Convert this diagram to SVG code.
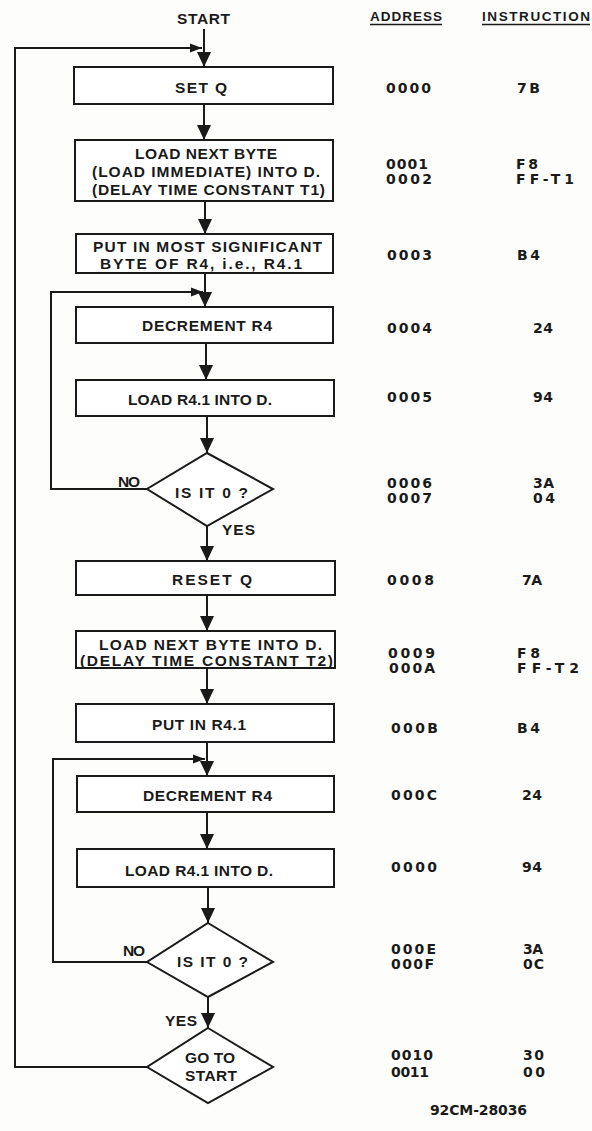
<svg xmlns="http://www.w3.org/2000/svg" width="592" height="1131" viewBox="0 0 592 1131">
<style>
.bg{fill:#fdfdfb}
.box{fill:#fff;stroke:#1a1a1a;stroke-width:2}
.ln{fill:none;stroke:#1a1a1a;stroke-width:2}
.t{font-family:"Liberation Sans",Arial,sans-serif;font-weight:bold;font-size:15.5px;fill:#1a1a1a}
.c{text-anchor:middle}
.n{font-family:"DejaVu Sans","Liberation Sans",sans-serif;font-weight:bold;font-size:14px;fill:#1a1a1a}
.h{font-family:"Liberation Sans",Arial,sans-serif;font-weight:bold;font-size:13.5px;fill:#1a1a1a}
.ul{stroke:#1a1a1a;stroke-width:1.5}
</style>
<defs>
<marker id="ad" markerUnits="userSpaceOnUse" markerWidth="15" markerHeight="14" refX="15" refY="7" orient="auto"><path d="M0,0 L15,7 L0,14 Z" fill="#1a1a1a"/></marker>
<marker id="ah" markerUnits="userSpaceOnUse" markerWidth="12" markerHeight="10" refX="12" refY="5" orient="auto"><path d="M0,0.5 L12,5 L0,9.5 Z" fill="#1a1a1a"/></marker>
</defs>
<rect class="bg" x="0" y="0" width="592" height="1131"/>

<g id="connectors">
<line class="ln" x1="204" y1="29" x2="204" y2="67" marker-end="url(#ad)"/>
<polyline class="ln" points="147,1067 15,1067 15,48 202,48" marker-end="url(#ah)"/>
<line class="ln" x1="204" y1="104" x2="204" y2="140" marker-end="url(#ad)"/>
<line class="ln" x1="205" y1="201" x2="205" y2="234" marker-end="url(#ad)"/>
<line class="ln" x1="205" y1="273" x2="205" y2="307" marker-end="url(#ad)"/>
<polyline class="ln" points="147,489 51,489 51,292 203,292" marker-end="url(#ah)"/>
<line class="ln" x1="206" y1="343" x2="206" y2="380" marker-end="url(#ad)"/>
<line class="ln" x1="207" y1="416" x2="207" y2="453" marker-end="url(#ad)"/>
<line class="ln" x1="207" y1="526" x2="207" y2="561" marker-end="url(#ad)"/>
<line class="ln" x1="207" y1="595" x2="207" y2="631" marker-end="url(#ad)"/>
<line class="ln" x1="207" y1="668" x2="207" y2="704" marker-end="url(#ad)"/>
<line class="ln" x1="207" y1="742" x2="207" y2="776" marker-end="url(#ad)"/>
<polyline class="ln" points="147,962 53,962 53,759 205,759" marker-end="url(#ah)"/>
<line class="ln" x1="207" y1="812" x2="207" y2="849" marker-end="url(#ad)"/>
<line class="ln" x1="208" y1="887" x2="208" y2="923" marker-end="url(#ad)"/>
<line class="ln" x1="208" y1="997" x2="208" y2="1028" marker-end="url(#ad)"/>
</g>

<g id="start"><text class="t c" x="203.5" y="23.5" textLength="53">START</text></g>

<g id="headers">
<text class="h" x="370" y="20.5" textLength="72">ADDRESS</text>
<line class="ul" x1="370" y1="24.5" x2="442" y2="24.5"/>
<text class="h" x="482" y="20.5" textLength="108">INSTRUCTION</text>
<line class="ul" x1="482" y1="24.5" x2="590" y2="24.5"/>
</g>

<g id="n1"><rect class="box" x="74" y="67" width="259" height="37"/><text class="t c" x="201" y="93" textLength="52">SET Q</text></g>
<g id="n2"><rect class="box" x="75" y="140" width="258" height="61"/>
<text class="t c" x="206" y="158.5" textLength="142">LOAD NEXT BYTE</text>
<text class="t c" x="206" y="177" textLength="228">(LOAD IMMEDIATE) INTO D.</text>
<text class="t c" x="208.5" y="194.5" textLength="233">(DELAY TIME CONSTANT T1)</text></g>
<g id="n3"><rect class="box" x="76" y="234" width="257" height="39"/>
<text class="t c" x="207.5" y="252" textLength="229">PUT IN MOST SIGNIFICANT</text>
<text class="t c" x="201" y="269" textLength="202">BYTE OF R4, i.e., R4.1</text></g>
<g id="n4"><rect class="box" x="76" y="307" width="257" height="36"/><text class="t c" x="207" y="331" textLength="130">DECREMENT R4</text></g>
<g id="n5"><rect class="box" x="76" y="380" width="258" height="36"/><text class="t c" x="200" y="404.5" textLength="144">LOAD R4.1 INTO D.</text></g>
<g id="n6"><polygon class="box" points="207,453 273,489 207,526 147,489"/>
<text class="t c" x="211.5" y="497.5" textLength="73">IS IT 0 ?</text>
<text class="t" x="118" y="487" textLength="22">NO</text>
<text class="t" x="222" y="534.5" textLength="33">YES</text></g>
<g id="n7"><rect class="box" x="76" y="561" width="259" height="34"/><text class="t c" x="212" y="584.5" textLength="80">RESET Q</text></g>
<g id="n8"><rect class="box" x="76" y="631" width="259" height="37"/>
<text class="t c" x="210.5" y="649.5" textLength="223">LOAD NEXT BYTE INTO D.</text>
<text class="t c" x="206.5" y="665.5" textLength="253">(DELAY TIME CONSTANT T2)</text></g>
<g id="n9"><rect class="box" x="76" y="704" width="258" height="38"/><text class="t c" x="199" y="729.5" textLength="94">PUT IN R4.1</text></g>
<g id="n10"><rect class="box" x="77" y="776" width="257" height="36"/><text class="t c" x="207.5" y="801" textLength="129">DECREMENT R4</text></g>
<g id="n11"><rect class="box" x="77" y="849" width="257" height="38"/><text class="t c" x="199" y="876" textLength="148">LOAD R4.1 INTO D.</text></g>
<g id="n12"><polygon class="box" points="208,923 273,962 208,997 147,962"/>
<text class="t c" x="212.5" y="967" textLength="71">IS IT 0 ?</text>
<text class="t" x="123" y="956" textLength="22">NO</text>
<text class="t" x="165" y="1026" textLength="32">YES</text></g>
<g id="n13"><polygon class="box" points="208,1028 273,1067 208,1103 147,1067"/>
<text class="t c" x="210" y="1062.5" textLength="50">GO TO</text>
<text class="t c" x="211" y="1081" textLength="52">START</text></g>

<g id="code">
<text class="n" x="386" y="92.5" textLength="45">0000</text><text class="n" x="517" y="92.5" textLength="23">7B</text>
<text class="n" x="386" y="168.5" textLength="42">0001</text><text class="n" x="516" y="168.5" textLength="22">F8</text>
<text class="n" x="386" y="183.5" textLength="46">0002</text><text class="n" x="516" y="183.5" textLength="58">FF-T1</text>
<text class="n" x="387" y="260" textLength="45">0003</text><text class="n" x="517" y="260" textLength="23">B4</text>
<text class="n" x="387" y="333" textLength="45">0004</text><text class="n" x="533" y="333" textLength="20">24</text>
<text class="n" x="387" y="402" textLength="45">0005</text><text class="n" x="533" y="402" textLength="20">94</text>
<text class="n" x="387" y="488" textLength="45">0006</text><text class="n" x="533" y="488" textLength="21">3A</text>
<text class="n" x="387" y="503" textLength="45">0007</text><text class="n" x="533" y="503" textLength="22">04</text>
<text class="n" x="387" y="585" textLength="47">0008</text><text class="n" x="522" y="585" textLength="20">7A</text>
<text class="n" x="388" y="658" textLength="47">0009</text><text class="n" x="517" y="658" textLength="23">F8</text>
<text class="n" x="389" y="673" textLength="46">000A</text><text class="n" x="517" y="673" textLength="62">FF-T2</text>
<text class="n" x="391" y="733" textLength="47">000B</text><text class="n" x="517" y="733" textLength="23">B4</text>
<text class="n" x="391" y="800" textLength="46">000C</text><text class="n" x="522" y="800" textLength="20">24</text>
<text class="n" x="391" y="871.5" textLength="46">0000</text><text class="n" x="522" y="871.5" textLength="20">94</text>
<text class="n" x="391" y="954" textLength="45">000E</text><text class="n" x="523" y="954" textLength="20">3A</text>
<text class="n" x="391" y="969" textLength="43">000F</text><text class="n" x="523" y="969" textLength="21">0C</text>
<text class="n" x="391" y="1060" textLength="42">0010</text><text class="n" x="523" y="1060" textLength="21">30</text>
<text class="n" x="391" y="1076.5" textLength="38">0011</text><text class="n" x="523" y="1076.5" textLength="22">00</text>
<text class="n" x="430" y="1115" textLength="97">92CM-28036</text>
</g>
</svg>
